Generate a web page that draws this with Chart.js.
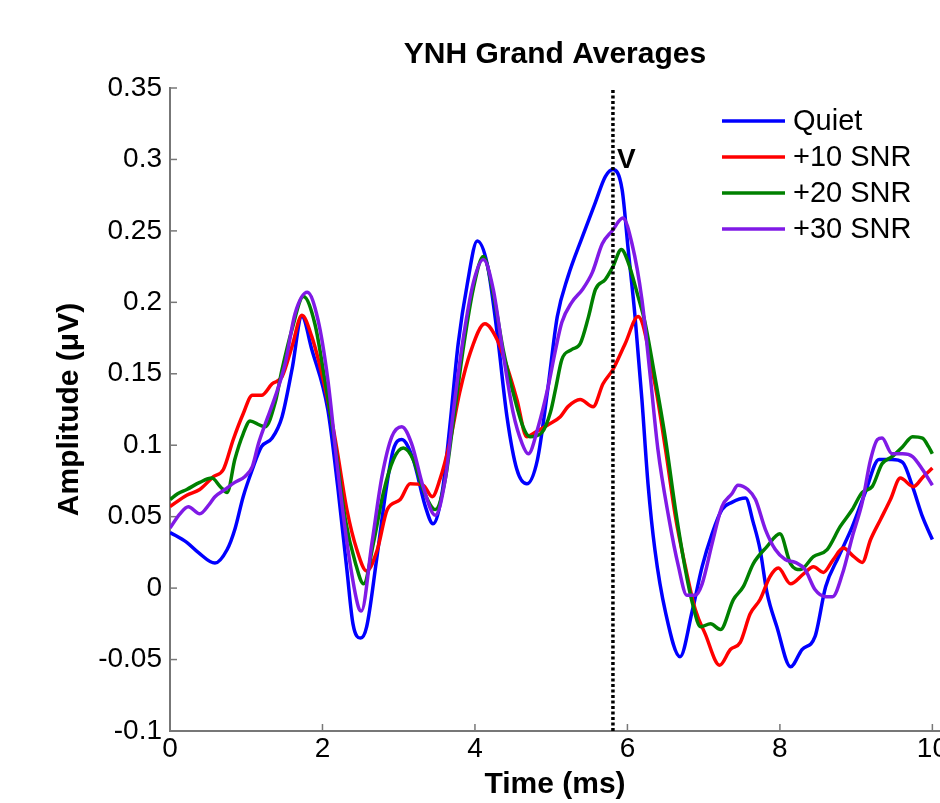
<!DOCTYPE html>
<html>
<head>
<meta charset="utf-8">
<script src="https://cdn.jsdelivr.net/npm/chart.js@4.4.1/dist/chart.umd.min.js"></script>
<style>
html,body{margin:0;padding:0;background:#fff;}
canvas{display:block;}
</style>
</head>
<body>
<canvas id="c" width="940" height="803"></canvas>
<script>
// ---------------- data ----------------
const chartTitle = 'YNH Grand Averages';
const xTitle = 'Time (ms)';
const yTitle = 'Amplitude (\u03BCV)';
const seriesNames = ['Quiet', '+10 SNR', '+20 SNR', '+30 SNR'];
const seriesColors = ['#0000ff', '#ff0000', '#008000', '#801ae6'];

const quietTime = [0,0.22,0.37,0.59,0.75,0.85,0.96,1.08,1.2,1.34,1.47,1.6,1.73,1.86,2.07,2.2,2.32,2.4,2.5,2.58,2.71,2.84,2.93,3.04,3.19,3.35,3.45,3.57,3.67,3.78,3.9,4.03,4.16,4.29,4.42,4.55,4.68,4.82,4.95,5.08,5.22,5.41,5.58,5.71,5.81,5.93,6.01,6.1,6.19,6.27,6.36,6.5,6.69,6.85,6.98,7.11,7.24,7.37,7.55,7.65,7.74,7.83,7.96,8.14,8.29,8.46,8.6,8.77,8.95,9.12,9.3,9.47,9.61,9.74,9.87,10];
const quietAmp  = [0.039,0.032,0.025,0.0175,0.027,0.041,0.064,0.083,0.099,0.105,0.12,0.153,0.19,0.167,0.125,0.071,0.013,-0.025,-0.035,-0.027,0.02,0.071,0.097,0.104,0.09,0.057,0.045,0.067,0.113,0.171,0.213,0.243,0.227,0.179,0.12,0.083,0.073,0.09,0.137,0.19,0.218,0.246,0.27,0.288,0.293,0.279,0.237,0.19,0.132,0.073,0.027,-0.017,-0.048,-0.016,0.015,0.038,0.055,0.06,0.063,0.046,0.027,-0.003,-0.027,-0.055,-0.043,-0.034,0.001,0.022,0.043,0.067,0.09,0.09,0.088,0.071,0.05,0.034];

const snr10Time = [0,0.22,0.39,0.57,0.7,0.83,0.96,1.08,1.2,1.34,1.47,1.6,1.73,1.86,2.0,2.13,2.19,2.32,2.45,2.58,2.72,2.85,3.02,3.15,3.32,3.44,3.54,3.67,3.8,3.94,4.13,4.29,4.42,4.55,4.68,4.79,4.95,5.12,5.22,5.38,5.55,5.68,5.81,5.97,6.14,6.36,6.5,6.63,6.76,6.89,7.02,7.21,7.35,7.48,7.61,7.74,7.87,7.98,8.14,8.31,8.44,8.57,8.7,8.83,8.97,9.08,9.19,9.32,9.45,9.58,9.75,9.88,10];
const snr10Amp  = [0.057,0.065,0.069,0.078,0.083,0.104,0.122,0.135,0.135,0.143,0.148,0.169,0.191,0.176,0.148,0.115,0.097,0.055,0.027,0.012,0.027,0.055,0.062,0.073,0.072,0.064,0.076,0.102,0.137,0.165,0.185,0.174,0.155,0.132,0.106,0.109,0.114,0.12,0.127,0.132,0.127,0.143,0.153,0.171,0.19,0.143,0.097,0.05,0.015,-0.015,-0.032,-0.054,-0.043,-0.038,-0.018,-0.008,0.008,0.014,0.003,0.01,0.015,0.011,0.02,0.028,0.022,0.018,0.034,0.048,0.062,0.077,0.071,0.078,0.084];

const snr20Time = [0,0.1,0.22,0.39,0.55,0.66,0.75,0.85,0.96,1.05,1.18,1.25,1.38,1.47,1.6,1.75,1.9,2.03,2.17,2.3,2.43,2.54,2.67,2.8,2.93,3.06,3.19,3.32,3.48,3.61,3.72,3.85,3.98,4.11,4.24,4.37,4.5,4.63,4.72,4.88,4.99,5.06,5.14,5.27,5.38,5.49,5.58,5.71,5.81,5.92,6.01,6.14,6.23,6.36,6.5,6.63,6.76,6.85,6.96,7.09,7.22,7.39,7.52,7.65,7.83,8.0,8.14,8.27,8.44,8.62,8.79,8.95,9.08,9.21,9.34,9.47,9.61,9.74,9.87,9.95,10];
const snr20Amp  = [0.062,0.066,0.069,0.074,0.077,0.071,0.067,0.09,0.108,0.117,0.114,0.113,0.13,0.153,0.181,0.204,0.185,0.146,0.099,0.048,0.018,0.003,0.032,0.067,0.09,0.098,0.09,0.069,0.055,0.076,0.118,0.169,0.21,0.232,0.206,0.167,0.137,0.113,0.106,0.109,0.123,0.14,0.16,0.167,0.171,0.19,0.209,0.216,0.225,0.237,0.228,0.204,0.186,0.148,0.104,0.055,0.013,-0.01,-0.027,-0.025,-0.029,-0.008,0.001,0.017,0.029,0.038,0.017,0.013,0.022,0.027,0.043,0.055,0.067,0.071,0.087,0.092,0.099,0.106,0.105,0.099,0.094];

const snr30Time = [0,0.13,0.24,0.39,0.52,0.59,0.72,0.85,0.98,1.08,1.16,1.25,1.38,1.51,1.64,1.8,1.94,2.07,2.2,2.34,2.47,2.51,2.65,2.78,2.91,3.04,3.17,3.32,3.48,3.61,3.72,3.85,3.98,4.11,4.24,4.37,4.5,4.62,4.7,4.83,4.96,5.05,5.14,5.27,5.41,5.54,5.67,5.8,5.94,6.06,6.19,6.3,6.4,6.54,6.67,6.78,6.89,6.98,7.11,7.24,7.37,7.45,7.58,7.68,7.81,7.94,8.07,8.2,8.33,8.46,8.6,8.69,8.82,8.95,9.08,9.19,9.28,9.34,9.47,9.61,9.74,9.87,10];
const snr30Amp  = [0.042,0.052,0.057,0.052,0.059,0.064,0.069,0.074,0.078,0.085,0.101,0.115,0.134,0.157,0.192,0.207,0.188,0.146,0.083,0.025,-0.013,-0.016,0.032,0.078,0.106,0.113,0.101,0.071,0.051,0.076,0.125,0.176,0.214,0.23,0.209,0.164,0.123,0.101,0.094,0.113,0.141,0.165,0.186,0.2,0.209,0.221,0.241,0.25,0.259,0.241,0.202,0.148,0.097,0.05,0.015,-0.005,-0.005,0.003,0.031,0.057,0.066,0.072,0.069,0.062,0.041,0.027,0.02,0.018,0.013,-0.001,-0.006,-0.006,0.01,0.036,0.06,0.09,0.104,0.105,0.094,0.094,0.092,0.083,0.072];

const waveVTime = 5.81;
const waveVLabel = 'V';

const xTickValues = [0, 2, 4, 6, 8, 10];
const xTickLabels = ['0', '2', '4', '6', '8', '10'];
const yTickValues = [-0.1, -0.05, 0, 0.05, 0.1, 0.15, 0.2, 0.25, 0.3, 0.35];
const yTickLabels = ['-0.1', '-0.05', '0', '0.05', '0.1', '0.15', '0.2', '0.25', '0.3', '0.35'];

// ---------------- chart ----------------
const X_MIN = 0, X_MAX = 10.1, Y_MIN = -0.1, Y_MAX = 0.35;
const FONT = "'Liberation Sans', Arial, Helvetica, sans-serif";
Chart.defaults.font.family = FONT;
Chart.defaults.color = '#000';

const seriesTime = [quietTime, snr10Time, snr20Time, snr30Time];
const seriesAmp = [quietAmp, snr10Amp, snr20Amp, snr30Amp];

const datasets = seriesNames.map((name, i) => ({
  label: name,
  data: seriesTime[i].map((t, k) => ({ x: t, y: seriesAmp[i][k] })),
  borderColor: seriesColors[i],
  backgroundColor: seriesColors[i],
  borderWidth: 3.5,
  pointRadius: 0,
  fill: false,
  cubicInterpolationMode: 'monotone',
  order: seriesNames.length - i
}));
datasets.push({
  label: waveVLabel,
  data: [{ x: waveVTime, y: Y_MIN }, { x: waveVTime, y: Y_MAX }],
  borderColor: '#000',
  borderWidth: 3.5,
  borderDash: [3, 2.5],
  pointRadius: 0,
  fill: false,
  order: 0
});

const AXIS_COLOR = '#777';

const decor = {
  id: 'decor',
  beforeDatasetsDraw(chart) {
    const { ctx } = chart;
    const x = chart.scales.x, y = chart.scales.y;
    ctx.save();
    ctx.strokeStyle = AXIS_COLOR;
    ctx.lineWidth = 1.5;
    yTickValues.forEach(v => {
      const py = y.getPixelForValue(v);
      ctx.beginPath(); ctx.moveTo(x.left, py); ctx.lineTo(x.left + 7, py); ctx.stroke();
    });
    xTickValues.forEach(v => {
      const px = x.getPixelForValue(v);
      ctx.beginPath(); ctx.moveTo(px, y.bottom); ctx.lineTo(px, y.bottom - 7); ctx.stroke();
    });
    ctx.restore();
  },
  afterDraw(chart) {
    const { ctx } = chart;
    const x = chart.scales.x, y = chart.scales.y;
    ctx.save();
    // wave V label
    ctx.fillStyle = '#000';
    ctx.font = 'bold 28px ' + FONT;
    ctx.textAlign = 'left';
    ctx.textBaseline = 'middle';
    ctx.fillText(waveVLabel, x.getPixelForValue(waveVTime) + 4, y.getPixelForValue(0.3) + 1);
    // legend
    ctx.font = '29px ' + FONT;
    const lx0 = 722, lx1 = 785, tx = 793, ly0 = 121, dy = 36;
    seriesNames.forEach((name, i) => {
      const ly = ly0 + i * dy;
      ctx.strokeStyle = seriesColors[i];
      ctx.lineWidth = 3.5;
      ctx.beginPath(); ctx.moveTo(lx0, ly); ctx.lineTo(lx1, ly); ctx.stroke();
      ctx.fillStyle = '#000';
      ctx.fillText(name, tx, ly + 1);
    });
    ctx.restore();
  }
};

new Chart(document.getElementById('c'), {
  type: 'line',
  data: { datasets },
  options: {
    responsive: false,
    animation: false,
    devicePixelRatio: 1,
    layout: { padding: { left: 0, right: 0, top: 0, bottom: 0 } },
    plugins: {
      legend: { display: false },
      tooltip: { enabled: false },
      title: {
        display: true,
        text: chartTitle,
        fullSize: false,
        color: '#000',
        font: { size: 30, weight: 'bold' },
        padding: { top: 37, bottom: 15 }
      }
    },
    scales: {
      x: {
        type: 'linear',
        min: X_MIN,
        max: X_MAX,
        afterBuildTicks: s => { s.ticks = xTickValues.map(v => ({ value: v })); },
        ticks: {
          callback: v => xTickLabels[xTickValues.indexOf(v)],
          font: { size: 28 },
          color: '#000',
          padding: 1,
          maxRotation: 0,
          autoSkip: false
        },
        grid: { display: true, drawOnChartArea: false, drawTicks: false },
        border: { display: true, color: AXIS_COLOR, width: 2 },
        title: { display: true, text: xTitle, color: '#000', font: { size: 30, weight: 'bold' }, padding: { top: 0, bottom: 0 } },
        afterFit: s => { s.height = 72; s.paddingLeft = 0; s.paddingRight = 0; }
      },
      y: {
        type: 'linear',
        min: Y_MIN,
        max: Y_MAX,
        afterBuildTicks: s => { s.ticks = yTickValues.map(v => ({ value: v })); },
        ticks: {
          callback: v => yTickLabels[yTickValues.findIndex(t => Math.abs(t - v) < 1e-9)],
          font: { size: 28 },
          color: '#000',
          padding: 8
        },
        grid: { display: true, drawOnChartArea: false, drawTicks: false },
        border: { display: true, color: AXIS_COLOR, width: 2 },
        title: { display: true, text: yTitle, color: '#000', font: { size: 30, weight: 'bold' }, padding: { top: 52, bottom: 0 } },
        afterFit: s => { s.width = 170; s.paddingTop = 0; s.paddingBottom = 0; }
      }
    }
  },
  plugins: [decor]
});
</script>
</body>
</html>
